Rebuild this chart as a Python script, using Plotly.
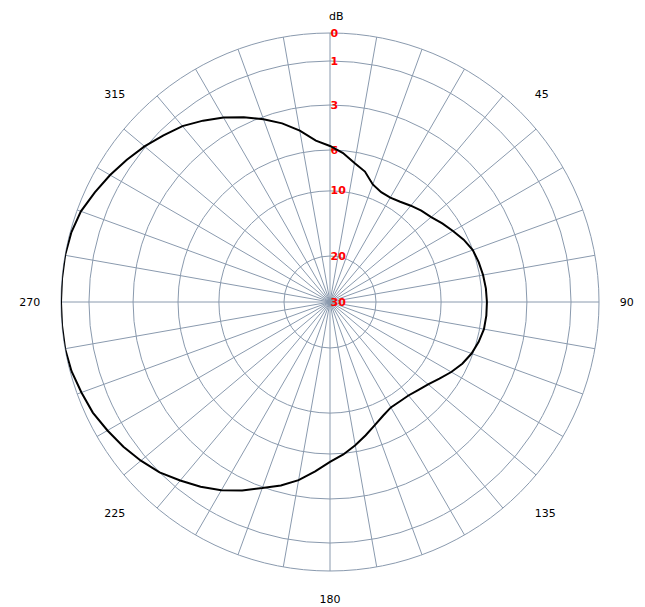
import numpy as np
import plotly.graph_objects as go

# antenna pattern: angle (deg, 0 = top, clockwise) and level below max (dB)
angles = list(range(0, 361, 5))
level_db = [5.73, 6.24, 7.07, 7.66, 8.63, 9.02, 9.07, 8.90, 8.57, 8.24,
            7.95, 7.46, 6.98, 6.44, 6.00, 5.87, 5.77, 5.70, 5.67, 5.67,
            5.71, 5.87, 6.13, 6.59, 7.17, 7.80, 8.34, 8.68, 8.93, 8.98,
            8.96, 8.59, 8.05, 7.37, 6.63, 5.93, 5.47, 4.80, 4.07, 3.47,
            2.95, 2.50, 2.07, 1.70, 1.36, 1.00, 0.79, 0.60, 0.43, 0.26,
            0.16, 0.05, 0.00, 0.00, 0.00, 0.00, 0.00, 0.04, 0.14, 0.34,
            0.54, 0.75, 0.96, 1.25, 1.52, 1.89, 2.27, 2.68, 3.17, 3.80,
            4.53, 5.33, 5.73]

db_ticks = [0, 1, 3, 6, 10, 20, 30]
db_tick_text = ["0", "1", "3", "6", "10", "20", "30"]
angle_labels = [45, 90, 135, 180, 225, 270, 315]
spokes = list(range(0, 360, 10))

# the chart's dB scale is not linear: ring radius (fraction of outer ring) per dB level
SCALE_DB = [0, 1, 3, 6, 10, 20, 30]
SCALE_R = [1.0, 0.896, 0.732, 0.565, 0.413, 0.171, 0.0]


def db_to_r(db):
    return np.interp(db, SCALE_DB, SCALE_R)


GRID = '#8A9AAE'
FONT = "DejaVu Sans"
W, H = 645, 607
# page body has an 8px margin, so positions are shifted by 8px
DOM_X = [53 / W, 591 / W]
DOM_Y = [1 - 563 / H, 1 - 25 / H]

fig = go.Figure()
fig.add_trace(go.Scatterpolar(r=db_to_r(level_db), theta=angles, mode='lines',
                              line=dict(color='black', width=2), showlegend=False,
                              subplot='polar'))

fig.update_layout(
    width=W, height=H,
    margin=dict(l=0, r=0, t=0, b=0),
    paper_bgcolor='white',
    showlegend=False,
    polar=dict(
        domain=dict(x=DOM_X, y=DOM_Y),
        bgcolor='white',
        angularaxis=dict(rotation=90, direction='clockwise', layer='below traces',
                         tickmode='array', tickvals=spokes, showticklabels=False,
                         ticks='', showgrid=True, gridcolor=GRID, gridwidth=1,
                         showline=True, linecolor=GRID, linewidth=1),
        radialaxis=dict(range=[0, 1], angle=90, tickangle=90, layer='below traces',
                        tickmode='array', tickvals=list(db_to_r(db_ticks)),
                        ticktext=db_tick_text, ticks='', showline=False,
                        showgrid=True, gridcolor=GRID, gridwidth=1,
                        tickfont=dict(family=FONT, size=11, color='red', weight='bold')),
    ),
    # second polar only for the angle labels (every 45 deg, grid is every 10 deg)
    polar2=dict(
        domain=dict(x=DOM_X, y=DOM_Y),
        bgcolor='rgba(0,0,0,0)',
        angularaxis=dict(rotation=90, direction='clockwise',
                         tickmode='array', tickvals=angle_labels,
                         ticks='outside', ticklen=18, tickcolor='rgba(0,0,0,0)',
                         showgrid=False, showline=False,
                         tickfont=dict(family=FONT, size=11, color='black')),
        radialaxis=dict(visible=False, range=[0, 1]),
    ),
    annotations=[dict(text='dB', x=329 / W, y=1 - 9 / H, xref='paper', yref='paper',
                      xanchor='center', yanchor='middle', showarrow=False,
                      font=dict(family=FONT, size=11, color='black'))],
)
# polar2 needs a trace to show up
fig.add_trace(go.Scatterpolar(r=[], theta=[], subplot='polar2', showlegend=False))

fig.write_html("out.html")
